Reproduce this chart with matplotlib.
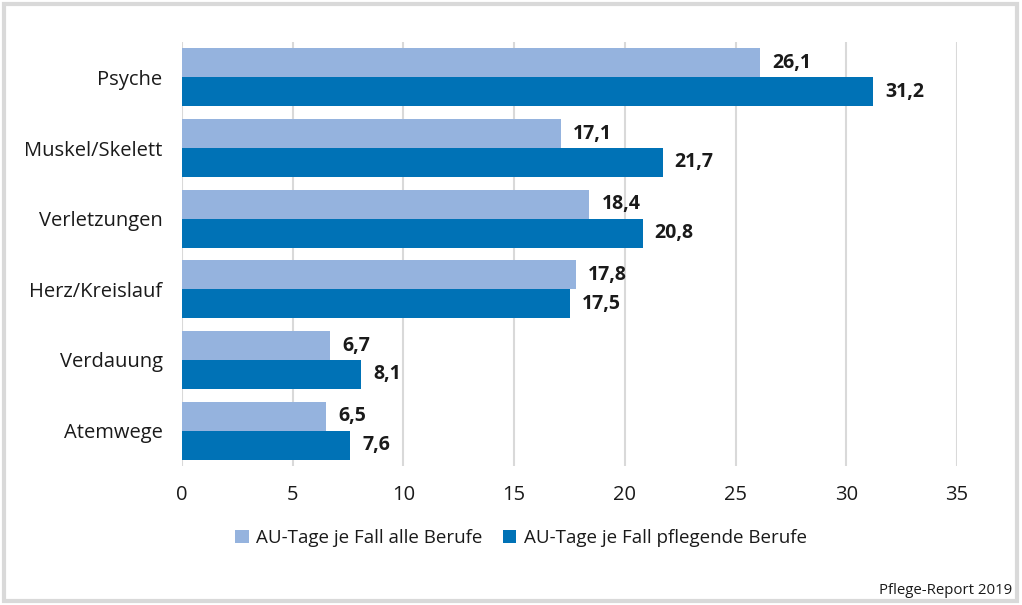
import matplotlib.pyplot as plt
import numpy as np
from matplotlib.patches import Rectangle

plt.rcParams['font.family'] = ['Open Sans', 'DejaVu Sans']

# Data
categories = ["Psyche", "Muskel/Skelett", "Verletzungen", "Herz/Kreislauf", "Verdauung", "Atemwege"]
alle_berufe = [26.1, 17.1, 18.4, 17.8, 6.7, 6.5]
pflege_berufe = [31.2, 21.7, 20.8, 17.5, 8.1, 7.6]
series_labels = ["AU-Tage je Fall alle Berufe", "AU-Tage je Fall pflegende Berufe"]
x_ticks = [0, 5, 10, 15, 20, 25, 30, 35]

light = "#95b3de"
dark = "#0072b6"

fig = plt.figure(figsize=(10.22, 6.05), dpi=100)
ax = fig.add_axes([182 / 1022, 1 - 466 / 605, 775 / 1022, 424 / 605])

y = np.arange(len(categories))
h = 0.41
ax.barh(y - h / 2, alle_berufe, height=h, color=light, label=series_labels[0], zorder=3)
ax.barh(y + h / 2, pflege_berufe, height=h, color=dark, label=series_labels[1], zorder=3)

def fmt(v):
    return f"{v:.1f}".replace(".", ",")

for yi, a, p in zip(y, alle_berufe, pflege_berufe):
    ax.text(a + 0.55, yi - h / 2, fmt(a), va="center", ha="left",
            fontsize=14, fontweight="bold", color="#1a1a1a")
    ax.text(p + 0.55, yi + h / 2, fmt(p), va="center", ha="left",
            fontsize=14, fontweight="bold", color="#1a1a1a")

ax.set_xlim(0, 35)
ax.set_ylim(len(categories) - 0.5, -0.5)
ax.set_xticks(x_ticks)
ax.set_xticklabels([str(t) for t in x_ticks])
ax.set_yticks(y)
ax.set_yticklabels(categories)
ax.tick_params(axis="both", length=0, labelsize=14.5, colors="#1a1a1a")
ax.tick_params(axis="x", pad=14)
ax.tick_params(axis="y", pad=14)
ax.grid(axis="x", color="#d9d9d9", linewidth=1.5, zorder=0)
for s in ax.spines.values():
    s.set_visible(False)

fig.legend(*ax.get_legend_handles_labels(), loc="center",
           bbox_to_anchor=(521 / 1022, 1 - 538 / 605), ncol=2, frameon=False,
           fontsize=13.5, handlelength=0.7, handleheight=0.7, handletextpad=0.4,
           columnspacing=1.1, labelcolor="#1a1a1a")

fig.text(1012 / 1022, 1 - 590 / 605, "Pflege-Report 2019", ha="right", va="center",
         fontsize=10.8, color="#1a1a1a")

fig.patches.append(Rectangle((4 / 1022, 4 / 605), 1013 / 1022, 597 / 605,
                             transform=fig.transFigure, fill=False,
                             edgecolor="#d9d9d9", linewidth=3))

fig.savefig("out.png", dpi=100)
